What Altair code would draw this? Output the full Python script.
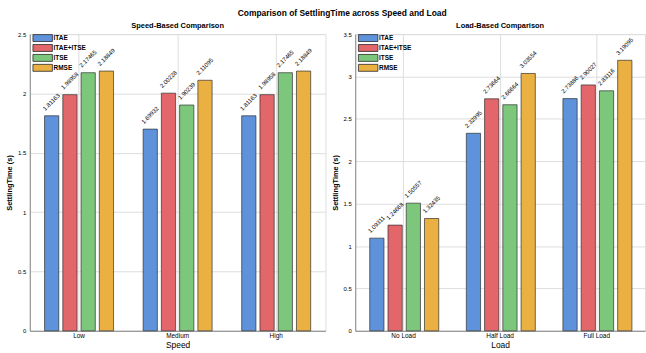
import altair as alt
import pandas as pd

# Tuning methods and their colours
methods = ["ITAE", "ITAE+ITSE", "ITSE", "RMSE"]
colors = ["#5E92DA", "#E2666A", "#7CC77B", "#EAB042"]

# Settling time (s) by speed
speeds = ["Low", "Medium", "High"]
speed_itae = [1.81163, 1.69932, 1.81163]
speed_itae_itse = [1.98958, 2.00228, 1.98958]
speed_itse = [2.17465, 1.90239, 2.17465]
speed_rmse = [2.18849, 2.11095, 2.18849]

# Settling time (s) by load
loads = ["No Load", "Half Load", "Full Load"]
load_itae = [1.09311, 2.32995, 2.73886]
load_itae_itse = [1.24668, 2.73664, 2.90027]
load_itse = [1.50557, 2.66664, 2.83116]
load_rmse = [1.32435, 3.03554, 3.19095]


def long_table(cats, series):
    rows = []
    for m, vals in zip(methods, series):
        for c, v in zip(cats, vals):
            rows.append({"Cat": c, "Method": m, "Value": v})
    return pd.DataFrame(rows)


speed_df = long_table(speeds, [speed_itae, speed_itae_itse, speed_itse, speed_rmse])
load_df = long_table(loads, [load_itae, load_itae_itse, load_itse, load_rmse])

FONT = "Liberation Sans"


def panel(df, cats, title, xtitle, ymax, ticks, width):
    base = alt.Chart(df).encode(
        x=alt.X(
            "Cat:N",
            sort=cats,
            title=xtitle,
            scale=alt.Scale(paddingInner=0.3, paddingOuter=0.15),
            axis=alt.Axis(
                labelAngle=0, grid=True, ticks=False, bandPosition=0.5,
                labelFontSize=6.5, labelPadding=2, titleFontSize=8.5,
                titlePadding=1, titleFontWeight="normal",
            ),
        ),
        xOffset=alt.XOffset("Method:N", sort=methods,
                            scale=alt.Scale(paddingInner=0.22)),
        y=alt.Y(
            "Value:Q",
            title="SettlingTime (s)",
            scale=alt.Scale(domain=[0, ymax], nice=False),
            axis=alt.Axis(
                values=ticks, format="~g", ticks=False, labelFontSize=6,
                labelPadding=4, titleFontSize=7.5, titleFontWeight="bold",
                titlePadding=4,
            ),
        ),
    )
    bars = base.mark_bar(
        stroke="#2b2b2b", strokeWidth=0.9, strokeOpacity=0.75
    ).encode(
        color=alt.Color(
            "Method:N",
            sort=methods,
            scale=alt.Scale(domain=methods, range=colors),
            legend=alt.Legend(
                title=None, orient="none", legendX=9, legendY=0,
                symbolType="M-2.8,-1H2.8V1H-2.8Z", symbolSize=49,
                symbolStrokeColor="#2b2b2b", symbolStrokeWidth=0.8,
                labelOffset=7, labelFontSize=6.5, labelFontWeight="bold",
                rowPadding=-4, labelFont=FONT,
            ),
        )
    )
    labels = base.mark_text(
        angle=315, align="left", baseline="middle", dx=-1, dy=-10,
        fontSize=6, font=FONT,
    ).encode(
        text=alt.Text("Value:Q", format=".5f"),
        color=alt.value("#000000"),
    )
    return (bars + labels).properties(
        width=width, height=299,
        title=alt.TitleParams(title, fontSize=7.5, fontWeight="bold",
                              offset=2, font=FONT),
    )


left = panel(speed_df, speeds, "Speed-Based Comparison", "Speed", 2.5,
             [0, 0.5, 1, 1.5, 2, 2.5], 298)
right = panel(load_df, loads, "Load-Based Comparison", "Load", 3.5,
              [0, 0.5, 1, 1.5, 2, 2.5, 3, 3.5], 292)

chart = alt.hconcat(left, right, spacing=4).resolve_scale(
    color="independent"
).properties(
    title=alt.TitleParams(
        "Comparison of SettlingTime across Speed and Load",
        fontSize=8.5, fontWeight="bold", anchor="middle", offset=4, dx=17,
        font=FONT,
    ),
    padding={"left": 5, "top": 7, "right": 0, "bottom": 0},
).configure_view(stroke=None).configure_axis(
    domainColor="#bdbdbd", gridColor="#e4e4e4", gridWidth=0.8,
    labelFont=FONT, titleFont=FONT, labelColor="#222222", titleColor="#111111",
).configure(background="white")

chart.save("out.html", embed_options={"renderer": "svg", "actions": False})
